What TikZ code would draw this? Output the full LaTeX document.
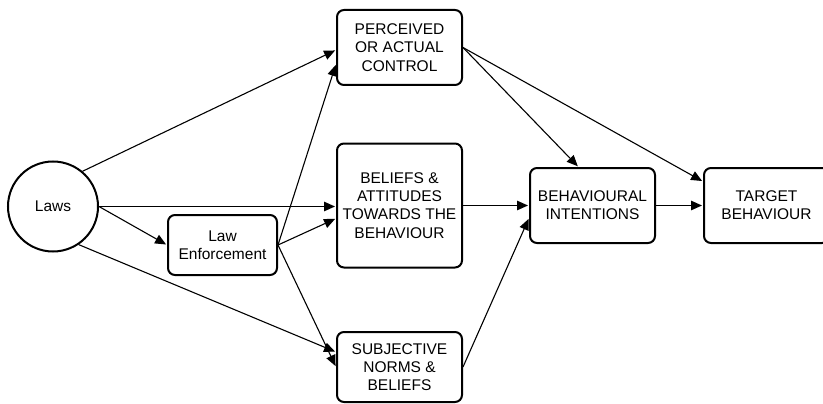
\documentclass[tikz,border=0pt]{standalone}
\usepackage{fontspec}
\setmainfont{Liberation Sans}
\usetikzlibrary{arrows.meta,calc}

\tikzset{
  base/.style={draw=black, line width=2pt, align=center, inner sep=0pt,
    font=\fontsize{15.5}{18.3}\selectfont},
  stage/.style={base, rectangle, rounded corners=7pt,
    minimum width=125pt, minimum height=75pt},
  source/.style={base, circle, minimum size=90pt},
  link/.style={line width=1.1pt, -{Triangle[length=11pt,width=9.5pt]},
    shorten >=1pt}
}

\begin{document}
\begin{tikzpicture}[x=1pt, y=-1pt]
  \useasboundingbox (0,0) rectangle (823,404);
  \clip (0,0) rectangle (823,404);

  % sources
  \node[source] (laws) at (53,206.5) {Laws};
  \node[stage, minimum width=109pt, minimum height=60pt] (enf) at (222.5,245)
    {Law\\Enforcement};

  % mediating factors
  \node[stage] (perc) at (399.5,47.5) {PERCEIVED\\OR ACTUAL\\CONTROL};
  \node[stage, minimum height=124pt] (beli) at (399.5,205.5)
    {BELIEFS \&\\ATTITUDES\\TOWARDS THE\\BEHAVIOUR};
  \node[stage, minimum height=70pt] (subj) at (399.5,367)
    {SUBJECTIVE\\NORMS \&\\BELIEFS};

  % outcomes
  \node[stage] (intent) at (592.5,205.5) {BEHAVIOURAL\\INTENTIONS};
  \node[stage] (target) at (766.5,205.5) {TARGET\\BEHAVIOUR};

  % connectors from the law
  \draw[link] (laws.50) -- ($(perc.west)+(0,2.5)$);
  \draw[link] (laws.east) -- (laws.east -| beli.west);
  \draw[link] (laws.east) -- (enf.west);
  \draw[link] (laws.-56) -- ($(subj.west)+(0,-15)$);

  % connectors from enforcement
  \draw[link] (enf.east) -- ($(perc.west)+(0,16.5)$);
  \draw[link] (enf.east) -- ($(beli.west)+(0,13)$);
  \draw[link] (enf.east) -- (subj.west);

  % connectors into intentions and behaviour
  \draw[link] (beli.east) -- (beli.east -| intent.west);
  \draw[link] (subj.east) -- ($(intent.west)+(0,12.5)$);
  \draw[link] (perc.east) -- ($(intent.north)+(-14,0)$);
  \draw[link] (perc.east) -- ($(target.west)+(0,-24)$);
  \draw[link] (intent.east) -- (target.west);
\end{tikzpicture}
\end{document}
